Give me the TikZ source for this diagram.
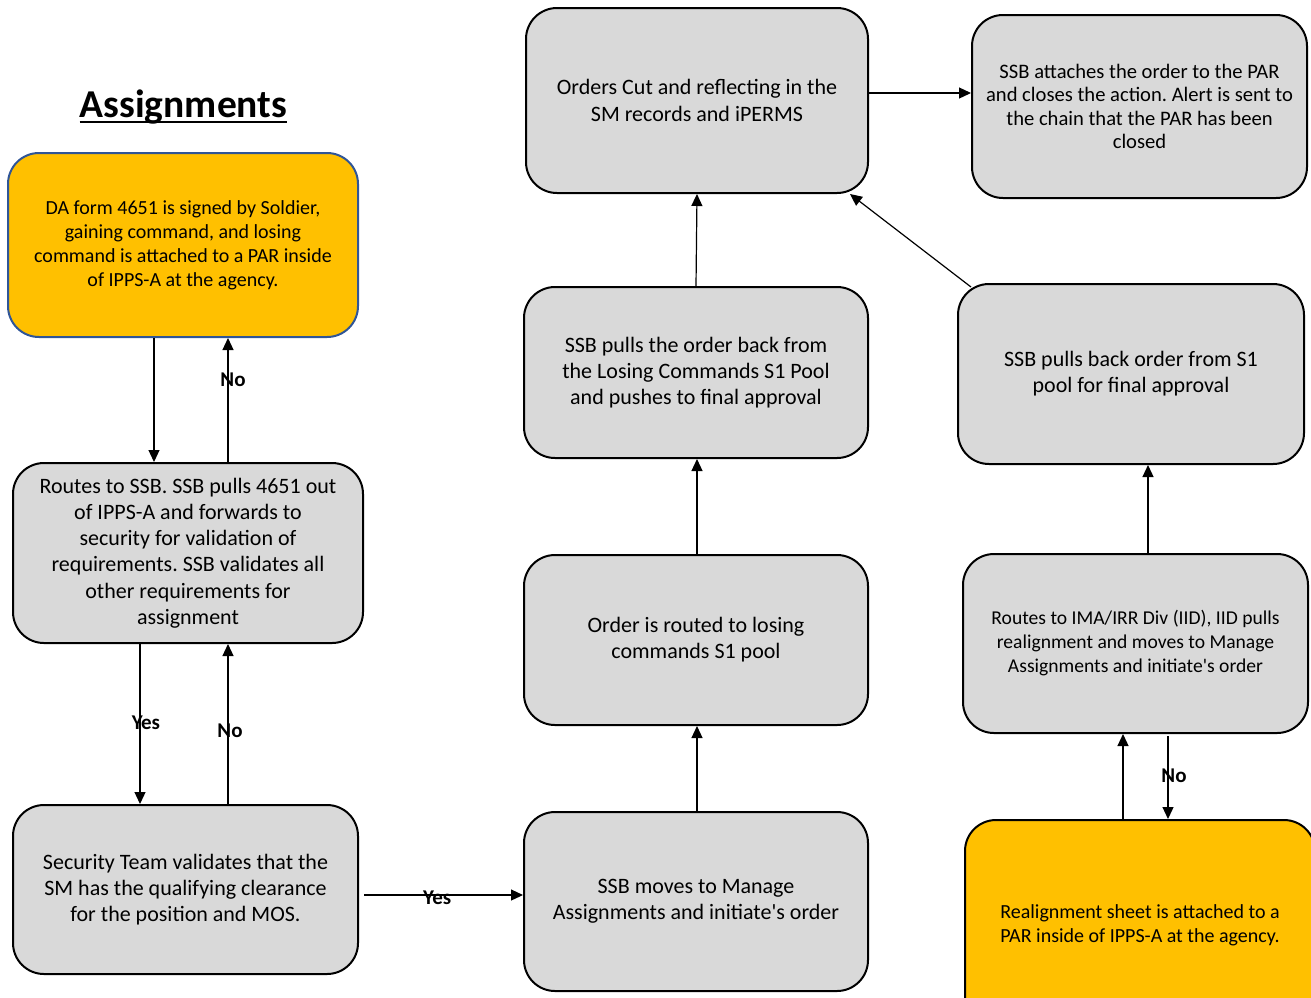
\documentclass[tikz,border=0pt]{standalone}
\usepackage{fontspec}
\setmainfont{Carlito}
\usetikzlibrary{arrows.meta}
\definecolor{boxgray}{HTML}{D9D9D9}
\definecolor{amber}{HTML}{FFC000}
\definecolor{edgeblue}{HTML}{2F5597}
\frenchspacing

\begin{document}
\begin{tikzpicture}[x=1pt,y=-1pt,
  box/.style={draw=black, line width=2pt, fill=boxgray, rounded corners=31pt,
              align=center, inner sep=0pt, text=black},
  obox/.style={box, fill=amber},
  arr/.style={draw=black, line width=1.2pt, -{Triangle[length=12pt,width=11pt]}},
  lbl/.style={font=\fontsize{21}{24}\selectfont\bfseries, inner sep=0pt},
  big/.style={font=\fontsize{22}{26.2}\selectfont},
  mid/.style={font=\fontsize{20.6}{23.6}\selectfont},
  amb/.style={font=\fontsize{20}{24}\selectfont},
  small/.style={font=\fontsize{19.6}{24}\selectfont}
]
\useasboundingbox (0,0) rectangle (1311,997);
\clip (0,0) rectangle (1311,997);

% title
\node[anchor=base, inner sep=0pt, font=\fontsize{39.5}{44}\selectfont\bfseries] (title) at (183.5,117) {Assignments};
\draw[line width=2.6pt] ([yshift=-5pt]title.base west) -- ([yshift=-5pt]title.base east);

% left column
\node[obox, draw=edgeblue, amb, minimum width=350pt, minimum height=184pt] (o1) at (183,245)
  {DA form 4651 is signed by Soldier,\\gaining command, and losing\\command is attached to a PAR inside\\of IPPS-A at the agency.};
\node[box, big, minimum width=350pt, minimum height=180pt] (b1) at (188,553)
  {Routes to SSB. SSB pulls 4651 out\\of IPPS-A and forwards to\\security for validation of\\requirements. SSB validates all\\other requirements for\\assignment};
\node[box, big, minimum width=345pt, minimum height=169pt] (b2) at (185.5,889.5)
  {Security Team validates that the\\SM has the qualifying clearance\\for the position and MOS.};

% middle column
\node[box, big, minimum width=344pt, minimum height=179pt] (c1) at (696,901.5)
  {SSB moves to Manage\\Assignments and initiate\textquotesingle s order};
\node[box, big, minimum width=344pt, minimum height=170pt] (c2) at (696,640)
  {Order is routed to losing\\commands S1 pool};
\node[box, big, minimum width=344pt, minimum height=171pt] (c3) at (696,372.5)
  {SSB pulls the order back from\\the Losing Commands S1 Pool\\and pushes to final approval};
\node[box, big, minimum width=342pt, minimum height=185pt] (c4) at (697,100.5)
  {Orders Cut and reflecting in the\\SM records and iPERMS};

% right column
\node[box, mid, minimum width=335pt, minimum height=183pt] (r0) at (1139.5,106.5)
  {SSB attaches the order to the PAR\\and closes the action. Alert is sent to\\the chain that the PAR has been\\closed};
\node[box, big, minimum width=346pt, minimum height=180pt] (r1) at (1131,374)
  {SSB pulls back order from S1\\pool for final approval};
\node[box, small, minimum width=345pt, minimum height=179pt] (r2) at (1135.5,643.5)
  {Routes to IMA/IRR Div (IID), IID pulls\\realignment and moves to Manage\\Assignments and initiate\textquotesingle s order};
\node[obox, amb, minimum width=350pt, minimum height=210pt] (r3) at (1140,925)
  {Realignment sheet is attached to a\\PAR inside of IPPS-A at the agency.};

% connectors, left column
\draw[arr] ([xshift=-29pt]o1.south) -- ([xshift=-34pt]b1.north);
\draw[arr] ([xshift=40pt]b1.north) -- node[lbl, pos=0.66, xshift=5pt] {No} ([xshift=45pt]o1.south);
\draw[arr] ([xshift=-48pt]b1.south) -- node[lbl, pos=0.49, xshift=6pt] {Yes} ([xshift=-45.5pt]b2.north);
\draw[arr] ([xshift=42.5pt]b2.north) -- node[lbl, pos=0.46, xshift=2pt] {No} ([xshift=40pt]b1.south);
\draw[arr] ([xshift=5pt,yshift=-5.5pt]b2.east) -- node[lbl, pos=0.46, yshift=-3pt] {Yes} ([yshift=6.5pt]c1.west);

% connectors, middle column
\draw[arr] ([xshift=1pt]c1.north) -- ([xshift=1pt]c2.south);
\draw[arr] ([xshift=1pt]c2.north) -- ([xshift=1pt]c3.south);
\draw[arr] ([xshift=0pt]c3.north) -- ([xshift=0pt]c4.south);
\draw[arr] ([yshift=7.5pt]c4.east) -- ([yshift=13.5pt]r0.west);

% connectors, right column
\draw[arr] ([xshift=14pt,yshift=-4pt]r1.north west) -- ([xshift=-19pt]c4.south east);
\draw[arr] ([xshift=12.5pt]r2.north) -- ([xshift=17pt]r1.south);
\draw[arr] ([xshift=-17pt]r3.north) -- ([xshift=-12.5pt]r2.south);
\draw[arr] ([xshift=32.5pt,yshift=-2pt]r2.south) -- node[lbl, pos=0.48, xshift=6pt] {No} ([xshift=28pt]r3.north);
\end{tikzpicture}
\end{document}
